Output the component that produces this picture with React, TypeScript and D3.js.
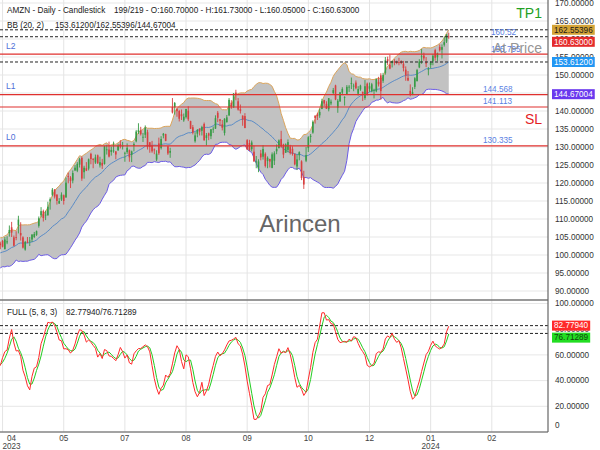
import React from "react";
import * as d3 from "d3";

// AMZN daily, 17 Mar 2023 .. 30 Jan 2024 (first 20 bars = indicator warm-up, not drawn)
const opens = [
  99.8,98.4,98.1,100.4,100.4,98.1,99.1,98.1,98.7,101.6,102.2,102.3,102.8,103.0,100.8,100.9,101.9,100.4,98.9,102.1,
  103.2,103.9,101.6,103.5,106.1,107.7,104.9,105.0,108.2,106.1,
  104.9,101.5,103.7,104.0,104.3,105.0,105.6,108.1,111.0,112.2,111.1,111.0,114.9,116.7,118.2,116.8,114.3,115.4,116.6,116.0,121.9,121.5,
  120.7,123.5,123.4,125.1,127.0,123.0,124.1,124.0,128.1,126.7,125.7,127.7,124.9,125.6,125.3,129.1,129.3,128.6,128.9,128.8,129.1,
  130.8,130.2,128.3,128.6,129.1,127.8,130.3,131.6,134.1,134.6,132.7,133.4,134.1,131.3,130.3,129.3,126.5,131.0,129.7,133.2,
  133.6,130.2,128.4,141.1,141.0,140.6,140.0,139.1,137.4,138.3,140.1,137.2,135.5,131.6,133.7,135.1,134.5,136.4,132.5,133.8,133.0,134.9,135.1,
  139.5,137.7,136.3,133.9,136.9,138.8,142.3,141.0,145.1,142.7,140.5,138.7,138.6,131.9,131.1,129.4,128.7,125.8,124.0,128.2,
  127.3,128.1,126.1,126.7,124.2,126.2,128.8,129.7,132.2,130.7,128.4,129.2,130.1,129.5,128.1,124.6,127.7,126.0,121.6,126.2,129.7,132.8,
  134.0,138.7,139.0,138.8,140.6,143.0,142.0,140.5,142.1,145.0,147.1,140.9,142.7,145.1,143.9,144.6,146.7,147.5,147.0,147.9,144.8,
  146.0,145.3,143.6,147.6,146.2,145.5,145.7,145.5,148.1,149.9,148.4,150.6,154.4,152.9,153.3,153.8,153.6,153.6,153.7,153.1,
  151.5,149.2,145.6,144.7,146.7,148.3,152.1,155.0,155.4,153.5,151.5,152.8,153.8,156.9,154.9,157.8,157.0,158.4,159.3,160.7,
];
const highs = [
  100.0,98.5,100.9,102.1,101.2,98.3,99.3,98.4,100.4,103.0,103.5,103.3,104.2,103.2,102.4,102.2,102.6,100.5,102.6,103.2,
  103.7,104.2,105.0,105.2,108.2,109.2,105.4,106.6,110.9,109.1,
  105.2,103.9,105.0,105.0,105.8,106.4,106.8,110.7,113.3,112.6,112.3,114.8,116.0,118.6,118.3,116.8,115.8,117.4,116.8,121.5,122.9,121.9,
  123.5,125.0,125.8,127.0,127.4,124.8,125.8,126.8,128.4,126.9,127.9,127.9,127.3,126.7,130.3,130.6,131.5,130.1,131.5,128.8,130.9,
  131.9,131.4,128.7,131.0,129.3,129.0,131.3,134.7,136.6,135.6,133.9,136.0,134.8,131.4,131.7,129.6,129.1,132.6,133.0,133.9,
  133.7,130.2,129.8,143.6,142.5,140.8,140.3,140.4,139.3,140.6,141.3,137.3,136.1,134.1,135.0,135.2,135.9,136.8,133.9,134.0,135.0,135.7,138.8,
  140.0,137.8,137.5,138.0,138.9,143.6,143.0,145.0,145.9,143.6,141.8,138.8,139.4,132.2,132.0,131.8,130.4,127.5,126.6,129.2,
  130.5,128.5,127.4,126.7,128.5,128.8,130.7,132.1,134.5,130.9,131.0,132.1,130.6,130.2,128.2,127.9,128.8,126.3,123.4,130.0,133.0,133.6,
  137.4,138.8,139.5,140.7,143.4,143.1,142.7,143.6,143.2,146.4,147.3,143.3,145.3,146.6,144.1,147.2,147.2,149.3,147.6,148.5,146.9,
  147.3,145.4,148.6,147.9,147.9,147.8,146.2,149.0,149.5,150.5,150.6,155.0,155.1,155.6,154.0,154.4,154.0,154.8,154.1,153.9,
  152.4,151.1,147.4,146.6,149.4,151.7,154.4,157.2,156.2,155.0,152.2,153.8,155.8,157.3,156.2,158.5,158.5,160.7,161.3,161.73,
];
const lows = [
  97.8,95.6,97.6,98.6,97.9,96.4,97.1,96.3,98.4,101.0,101.2,101.4,102.1,100.2,99.8,99.6,99.7,97.4,98.7,101.1,
  101.6,102.1,101.6,103.0,105.1,105.0,102.4,104.1,106.0,104.0,
  101.8,101.2,103.3,102.5,103.6,104.7,105.3,107.6,110.5,109.3,109.7,111.0,112.6,116.3,115.7,114.0,114.2,115.0,114.0,115.9,119.9,118.6,
  119.9,123.3,123.0,124.3,120.6,121.2,123.3,123.5,125.2,124.1,125.3,125.3,124.3,123.9,125.1,127.9,127.1,127.6,128.4,126.6,128.9,
  129.6,129.3,125.9,128.1,125.9,125.8,128.8,131.3,133.6,133.2,131.4,132.5,129.3,128.4,128.4,128.0,126.1,127.8,129.3,132.4,
  131.6,127.8,127.0,139.3,139.0,138.4,137.1,137.5,137.0,137.9,137.2,135.0,133.5,131.2,132.7,133.2,133.2,131.8,130.4,131.9,132.2,133.9,135.0,
  136.9,135.8,134.6,133.2,136.8,138.6,140.6,140.9,143.0,140.1,139.3,135.9,135.2,129.2,128.9,128.8,125.9,124.1,123.0,126.3,
  126.5,124.3,124.1,124.3,124.1,125.0,128.0,129.6,129.8,126.9,128.4,128.5,127.9,127.6,124.9,123.6,126.3,120.8,118.35,125.8,128.6,131.2,
  133.7,136.5,137.5,138.1,140.5,141.3,140.6,139.9,141.6,144.7,143.0,139.5,142.5,144.4,141.5,144.5,145.3,146.1,145.5,146.0,144.3,
  145.6,142.8,143.1,144.3,145.3,145.2,143.5,145.2,146.8,143.1,147.8,150.1,152.8,151.6,152.1,152.7,153.0,152.7,153.0,151.0,
  148.4,148.3,144.1,144.4,146.1,148.2,151.9,153.1,154.0,152.2,149.9,151.8,152.7,154.0,153.9,156.5,154.6,157.9,158.9,160.05,
];
const closes = [
  98.95,97.71,100.61,98.70,98.71,98.13,98.04,97.24,100.25,102.00,103.29,102.41,103.95,101.10,102.06,102.17,99.92,97.83,102.40,102.51,
  102.74,102.30,104.30,103.81,106.96,106.21,102.57,104.98,109.82,105.45,
  102.05,103.63,103.65,104.00,105.66,105.83,106.62,110.19,112.18,110.26,111.20,113.40,115.50,118.15,116.25,115.01,114.99,116.75,115.00,120.11,121.66,120.58,
  122.77,124.25,125.30,126.61,121.23,124.25,123.43,126.57,126.66,126.42,127.11,125.49,125.78,124.83,130.15,129.33,127.33,129.18,129.04,127.90,130.36,
  130.22,130.38,128.36,129.78,127.13,128.78,130.80,134.30,134.68,133.56,132.83,135.36,129.96,130.00,128.80,129.13,128.15,128.25,132.21,133.68,
  131.69,128.21,128.91,139.57,142.22,139.94,137.85,138.56,138.41,140.57,137.67,135.07,133.98,133.22,134.68,134.25,135.52,131.84,133.26,133.14,134.91,135.07,138.01,
  138.12,137.27,135.36,137.85,138.23,143.10,141.23,144.85,144.72,140.39,139.98,137.63,135.29,129.33,129.12,131.27,125.98,125.98,125.98,127.12,
  129.46,124.72,127.00,125.96,127.96,128.26,129.48,131.83,130.23,127.90,130.71,131.36,128.31,128.09,125.17,126.56,128.56,121.39,119.57,127.74,132.71,133.09,
  137.00,138.07,138.60,139.74,142.71,142.08,140.60,143.56,142.59,145.80,143.20,142.83,145.18,146.13,143.90,146.71,146.74,147.73,147.03,146.32,146.09,
  147.03,144.84,146.88,144.52,146.88,147.42,145.89,148.84,147.42,145.52,149.97,154.07,153.79,151.77,153.84,153.42,153.41,153.34,153.38,151.94,
  149.93,148.47,144.57,145.24,149.10,151.37,153.73,155.18,154.62,153.16,151.71,153.50,155.34,154.78,156.02,156.87,157.75,159.12,161.26,160.63,
];

const WARMUP = 20;
const tickBars = [1, 28, 55, 82, 109, 136, 163, 190, 217];
const tickMonths = ["04", "05", "07", "08", "09", "10", "12", "01", "02"];
const tickYears = ["2023", "", "", "", "", "", "", "2024", ""];
const priceTicks = [90, 95, 100, 105, 110, 115, 120, 125, 130, 135, 140, 145, 150, 155, 160, 165, 170];
const stochTicks = [0, 20, 40, 60, 80, 100];
const redLevels = [155.795, 144.568, 141.113, 130.335];
const levelLabelValues = [160.52, 155.795, 144.568, 141.113, 130.335];
const levelLabelTexts = ["160.52", "155.795", "144.568", "141.113", "130.335"];
const sideNames = ["L2", "L1", "L0"];
const sideValues = [155.795, 144.568, 130.335];
const bbParams = { period: 20, mult: 2 };
const stochParams = { k: 5, smooth: 8, d: 3 };
const lastBB = { mid: 153.612, up: 162.55396, lo: 144.67004 };
const lastPrice = 160.63;
const lastStoch = { k: 82.7794, d: 76.71289 };

const FONT = "'Liberation Sans', Arial, sans-serif";
const PR = 548;

export default function App() {
  const N = closes.length;
  const x = d3.scaleLinear().domain([0, 240]).range([0.3, 0.3 + 240 * 2.265]);
  const yP = d3.scaleLinear().domain([90, 170]).range([291, 3]);
  const yS = d3.scaleLinear().domain([0, 100]).range([432, 303.5]);
  const vis = d3.range(WARMUP, N);
  const xi = (i: number) => x(i - WARMUP);

  const bb = vis.map((i) => {
    const w = closes.slice(i - bbParams.period + 1, i + 1);
    const m = d3.mean(w) as number;
    const sd = Math.sqrt(d3.mean(w, (d) => (d - m) ** 2) as number);
    return { i, m, up: m + bbParams.mult * sd, lo: m - bbParams.mult * sd };
  });
  const rawK = closes.map((c, i) => {
    if (i < stochParams.k - 1) return NaN;
    const hh = d3.max(highs.slice(i - stochParams.k + 1, i + 1)) as number;
    const ll = d3.min(lows.slice(i - stochParams.k + 1, i + 1)) as number;
    return ((c - ll) / (hh - ll)) * 100;
  });
  const slowK = rawK.map((_, i) =>
    i < stochParams.k + stochParams.smooth - 2 ? NaN : (d3.mean(rawK.slice(i - stochParams.smooth + 1, i + 1)) as number)
  );
  const dLine = slowK.map((_, i) =>
    i < stochParams.k + stochParams.smooth + stochParams.d - 3 ? NaN : (d3.mean(slowK.slice(i - stochParams.d + 1, i + 1)) as number)
  );

  type B = { i: number; m: number; up: number; lo: number };
  const area = d3.area<B>().x((d) => xi(d.i)).y0((d) => yP(d.lo)).y1((d) => yP(d.up))(bb) as string;
  const upLine = d3.line<B>().x((d) => xi(d.i)).y((d) => yP(d.up))(bb) as string;
  const loLine = d3.line<B>().x((d) => xi(d.i)).y((d) => yP(d.lo))(bb) as string;
  const midLine = d3.line<B>().x((d) => xi(d.i)).y((d) => yP(d.m))(bb) as string;
  const kPath = d3.line<number>().x((i) => xi(i)).y((i) => yS(slowK[i]))(vis) as string;
  const dPath = d3.line<number>().x((i) => xi(i)).y((i) => yS(dLine[i]))(vis) as string;

  const tw = (s: string, fs: number) => {
    let w = 0;
    for (const ch of s) w += ch === "." ? 0.278 : 0.556;
    return w * fs;
  };
  const fs = 8.2;

  const boxes: { v: number; y: number; txt: string; bg: string; fg: string }[] = [];
  const stack = (items: { v: number; yy: number; bg: string; fg: string }[]) => {
    let prev = -1e9;
    items.forEach((it) => {
      const c = Math.max(it.yy, prev + 12);
      prev = c;
      boxes.push({ v: it.v, y: c, txt: it.v.toFixed(5), bg: it.bg, fg: it.fg });
    });
  };
  stack([
    { v: lastBB.up, yy: yP(lastBB.up), bg: "#d4a437", fg: "#1a1a1a" },
    { v: lastPrice, yy: yP(lastPrice), bg: "#e42b2b", fg: "#ffffff" },
    { v: lastBB.mid, yy: yP(lastBB.mid), bg: "#2196f3", fg: "#ffffff" },
    { v: lastBB.lo, yy: yP(lastBB.lo), bg: "#6a38ee", fg: "#ffffff" },
  ]);
  stack([
    { v: lastStoch.k, yy: yS(lastStoch.k), bg: "#ff2a2a", fg: "#ffffff" },
    { v: lastStoch.d, yy: yS(lastStoch.d), bg: "#22dd22", fg: "#114411" },
  ]);

  const dashedMain = [lastBB.up, lastPrice, lastBB.mid];
  const dashedLow = [lastStoch.k, lastStoch.d];

  return (
    <svg width={600} height={450} style={{ position: "absolute", left: 0, top: 0, background: "#fff" }} fontFamily={FONT}>
      <defs>
        <clipPath id="cm"><rect x={0} y={0} width={PR} height={300} /></clipPath>
        <clipPath id="cl"><rect x={0} y={300} width={PR} height={132} /></clipPath>
      </defs>
      <rect x={0} y={0} width={600} height={450} fill="#fff" />
      {/* grid */}
      {priceTicks.map((p) => (
        <line key={"gp" + p} x1={0} x2={PR} y1={yP(p)} y2={yP(p)} stroke="#e7e7e7" strokeWidth={1} />
      ))}
      {stochTicks.map((p) => (
        <line key={"gs" + p} x1={0} x2={PR} y1={yS(p)} y2={yS(p)} stroke="#e7e7e7" strokeWidth={1} />
      ))}
      {tickBars.map((b) => (
        <line key={"gx" + b} x1={x(b)} x2={x(b)} y1={0} y2={432} stroke="#e4e4e4" strokeWidth={1} />
      ))}
      {/* main panel */}
      <g clipPath="url(#cm)">
        <path d={area} fill="#c2c2c2" />
        <path d={upLine} fill="none" stroke="#dca55c" strokeWidth={1} />
        <path d={loLine} fill="none" stroke="#6c5ce6" strokeWidth={1} />
        <path d={midLine} fill="none" stroke="#4f86c6" strokeWidth={0.9} />
        {vis.map((i) => {
          const up = closes[i] >= opens[i];
          const col = up ? "#379b46" : "#d83f3f";
          const cx = xi(i);
          const yt = yP(Math.max(opens[i], closes[i]));
          const yb = yP(Math.min(opens[i], closes[i]));
          return (
            <g key={"c" + i}>
              <line x1={cx} x2={cx} y1={yP(highs[i])} y2={yP(lows[i])} stroke={col} strokeWidth={0.9} />
              <rect x={cx - 0.8} y={yt} width={1.6} height={Math.max(0.8, yb - yt)} fill={col} />
            </g>
          );
        })}
        {redLevels.map((v) => (
          <line key={"rl" + v} x1={0} x2={PR} y1={yP(v)} y2={yP(v)} stroke="#e0302e" strokeWidth={1.2} />
        ))}
        {dashedMain.map((v) => (
          <line key={"dm" + v} x1={0} x2={PR} y1={yP(v)} y2={yP(v)} stroke="#222" strokeWidth={1} strokeDasharray="3 2" />
        ))}
      </g>
      {/* level labels */}
      {sideNames.map((n, k) => (
        <text key={n} x={6} y={yP(sideValues[k]) - 5.5} fontSize={8.5} fill="#4f70d8">{n}</text>
      ))}
      {levelLabelTexts.map((t, k) => (
        <text key={t} x={k < 2 ? 491 : 483} y={yP(levelLabelValues[k]) - 2.5} fontSize={fs} fill="#5b7fe3">{t}</text>
      ))}
      <text x={542} y={18} fontSize={14} fill="#23a023" textAnchor="end">TP1</text>
      <text x={542} y={53} fontSize={14} fill="#888" fillOpacity={0.9} textAnchor="end">At Price</text>
      <text x={542} y={123.5} fontSize={14} fill="#e4201f" textAnchor="end">SL</text>
      <text x={300} y={232} fontSize={24} fill="#666" textAnchor="middle">Arincen</text>
      {/* headers */}
      <text x={7} y={12.5} fontSize={fs} fill="#222">AMZN - Daily - Candlestick</text>
      <text x={114} y={12.5} fontSize={fs} fill="#222">199/219 - O:160.70000 - H:161.73000 - L:160.05000 - C:160.63000</text>
      <text x={7} y={28} fontSize={fs} fill="#222">{`BB (${bbParams.period}, ${bbParams.mult})`}</text>
      <text x={55} y={28} fontSize={fs} fill="#222">{`${lastBB.mid.toFixed(5)}/${lastBB.up.toFixed(5)}/${lastBB.lo.toFixed(5)}`}</text>
      {/* lower panel */}
      <g clipPath="url(#cl)">
        {dashedLow.map((v) => (
          <line key={"dl" + v} x1={0} x2={PR} y1={yS(v)} y2={yS(v)} stroke="#222" strokeWidth={1} strokeDasharray="3 2" />
        ))}
        <path d={dPath} fill="none" stroke="#22cc22" strokeWidth={1} />
        <path d={kPath} fill="none" stroke="#ff2a2a" strokeWidth={1} />
      </g>
      <text x={7} y={315} fontSize={fs} fill="#222">{`FULL (${stochParams.k}, ${stochParams.smooth}, ${stochParams.d})`}</text>
      <text x={66} y={315} fontSize={fs} fill="#222">{`${lastStoch.k.toFixed(5)}/${lastStoch.d.toFixed(5)}`}</text>
      {/* frame */}
      <line x1={0} x2={PR} y1={300} y2={300} stroke="#777" strokeWidth={1.5} />
      <line x1={0} x2={PR} y1={432} y2={432} stroke="#555" strokeWidth={1.2} />
      <line x1={PR} x2={PR} y1={0} y2={432} stroke="#666" strokeWidth={1.2} />
      {/* right axis labels */}
      {priceTicks.map((p) => (
        <text key={"tp" + p} x={555} y={yP(p)} dy="0.35em" fontSize={fs} fill="#333">{p.toFixed(5)}</text>
      ))}
      {stochTicks.map((p) => (
        <text key={"ts" + p} x={555} y={p === 0 ? 425 : yS(p)} dy="0.35em" fontSize={fs} fill="#333">{p === 0 ? "0" : p.toFixed(5)}</text>
      ))}
      {boxes.map((b) => (
        <g key={"bx" + b.txt}>
          <rect x={552} y={b.y - 5} width={tw(b.txt, fs) + 4} height={10} fill={b.bg} />
          <text x={554} y={b.y} dy="0.35em" fontSize={fs} fill={b.fg}>{b.txt}</text>
        </g>
      ))}
      {/* x axis labels */}
      {tickBars.map((b, k) => {
        const cx = Math.max(11.5, x(b));
        return (
          <g key={"xl" + b}>
            <text x={cx} y={440.5} fontSize={fs} fill="#444" textAnchor="middle">{tickMonths[k]}</text>
            {tickYears[k] && (
              <text x={cx} y={449} fontSize={fs} fill="#444" textAnchor="middle">{tickYears[k]}</text>
            )}
          </g>
        );
      })}
    </svg>
  );
}
